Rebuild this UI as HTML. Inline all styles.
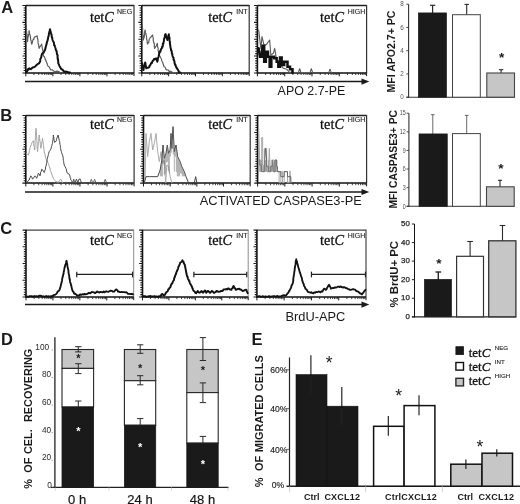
<!DOCTYPE html>
<html lang="en">
<head>
<meta charset="utf-8">
<title>Figure</title>
<style>
html,body{margin:0;padding:0;background:#fff;}
body{width:520px;height:504px;overflow:hidden;}
svg{display:block;}
</style>
</head>
<body>
<svg width="520" height="504" viewBox="0 0 520 504">
<rect x="0" y="0" width="520" height="504" fill="#ffffff"/>
<text transform="translate(1.2 12.7)" font-family='"Liberation Sans", Arial, sans-serif' font-size="16.5" font-weight="bold" text-anchor="start" fill="#1a1a1a" >A</text>
<text transform="translate(0.3 120.9)" font-family='"Liberation Sans", Arial, sans-serif' font-size="16.5" font-weight="bold" text-anchor="start" fill="#1a1a1a" >B</text>
<text transform="translate(0.3 234.2)" font-family='"Liberation Sans", Arial, sans-serif' font-size="16.5" font-weight="bold" text-anchor="start" fill="#1a1a1a" >C</text>
<text transform="translate(0.9 344.7)" font-family='"Liberation Sans", Arial, sans-serif' font-size="16.5" font-weight="bold" text-anchor="start" fill="#1a1a1a" >D</text>
<text transform="translate(251.6 345)" font-family='"Liberation Sans", Arial, sans-serif' font-size="16.5" font-weight="bold" text-anchor="start" fill="#1a1a1a" >E</text>
<line x1="25.8" y1="5.5" x2="134" y2="5.5" stroke="#222" stroke-width="1.3" />
<line x1="25.8" y1="5.2" x2="25.8" y2="73.2" stroke="#111" stroke-width="1.6" />
<line x1="134" y1="4.9" x2="134" y2="72.9" stroke="#333" stroke-width="1.2" />
<line x1="25.3" y1="72.9" x2="134" y2="72.9" stroke="#111" stroke-width="1.5" />
<path d="M22.4 5.5H25.8M23.6 7.91H25.8M23.6 10.31H25.8M23.6 12.72H25.8M23.6 15.13H25.8M23.6 17.54H25.8M23.6 19.94H25.8M22.4 22.35H25.8M23.6 24.76H25.8M23.6 27.16H25.8M23.6 29.57H25.8M23.6 31.98H25.8M23.6 34.39H25.8M23.6 36.79H25.8M22.4 39.2H25.8M23.6 41.61H25.8M23.6 44.01H25.8M23.6 46.42H25.8M23.6 48.83H25.8M23.6 51.24H25.8M23.6 53.64H25.8M22.4 56.05H25.8M23.6 58.46H25.8M23.6 60.86H25.8M23.6 63.27H25.8M23.6 65.68H25.8M23.6 68.09H25.8M23.6 70.49H25.8M22.4 72.9H25.8" stroke="#1a1a1a" stroke-width="1.05" fill="none"/>
<path d="M25.8 72.9V76.3M52.85 72.9V76.3M79.9 72.9V76.3M106.95 72.9V76.3M134 72.9V76.1" stroke="#1a1a1a" stroke-width="1.0" fill="none"/>
<path d="M33.94 72.9V75M38.71 72.9V75M42.09 72.9V75M44.71 72.9V75M46.85 72.9V75M48.66 72.9V75M50.23 72.9V75M51.61 72.9V75M60.99 72.9V75M65.76 72.9V75M69.14 72.9V75M71.76 72.9V75M73.9 72.9V75M75.71 72.9V75M77.28 72.9V75M78.66 72.9V75M88.04 72.9V75M92.81 72.9V75M96.19 72.9V75M98.81 72.9V75M100.95 72.9V75M102.76 72.9V75M104.33 72.9V75M105.71 72.9V75M115.09 72.9V75M119.86 72.9V75M123.24 72.9V75M125.86 72.9V75M128 72.9V75M129.81 72.9V75M131.38 72.9V75M132.76 72.9V75" stroke="#222" stroke-width="0.85" fill="none"/>
<text transform="translate(90 21.7) scale(0.925 1)" font-family='"Liberation Serif", "Times New Roman", serif' font-size="15.5" fill="#111" stroke="#111" stroke-width="0.3">tet<tspan font-style="italic">C</tspan></text>
<text transform="translate(117 13.9)" font-family='"Liberation Sans", Arial, sans-serif' font-size="7" font-weight="normal" text-anchor="start" fill="#222" stroke="#222" stroke-width="0.12">NEG</text>
<line x1="141.8" y1="5.5" x2="249.2" y2="5.5" stroke="#222" stroke-width="1.3" />
<line x1="141.8" y1="5.2" x2="141.8" y2="73.2" stroke="#111" stroke-width="1.6" />
<line x1="249.2" y1="4.9" x2="249.2" y2="72.9" stroke="#333" stroke-width="1.2" />
<line x1="141.3" y1="72.9" x2="249.2" y2="72.9" stroke="#111" stroke-width="1.5" />
<path d="M138.4 5.5H141.8M139.6 7.91H141.8M139.6 10.31H141.8M139.6 12.72H141.8M139.6 15.13H141.8M139.6 17.54H141.8M139.6 19.94H141.8M138.4 22.35H141.8M139.6 24.76H141.8M139.6 27.16H141.8M139.6 29.57H141.8M139.6 31.98H141.8M139.6 34.39H141.8M139.6 36.79H141.8M138.4 39.2H141.8M139.6 41.61H141.8M139.6 44.01H141.8M139.6 46.42H141.8M139.6 48.83H141.8M139.6 51.24H141.8M139.6 53.64H141.8M138.4 56.05H141.8M139.6 58.46H141.8M139.6 60.86H141.8M139.6 63.27H141.8M139.6 65.68H141.8M139.6 68.09H141.8M139.6 70.49H141.8M138.4 72.9H141.8" stroke="#1a1a1a" stroke-width="1.05" fill="none"/>
<path d="M141.8 72.9V76.3M168.65 72.9V76.3M195.5 72.9V76.3M222.35 72.9V76.3M249.2 72.9V76.1" stroke="#1a1a1a" stroke-width="1.0" fill="none"/>
<path d="M149.88 72.9V75M154.61 72.9V75M157.97 72.9V75M160.57 72.9V75M162.69 72.9V75M164.49 72.9V75M166.05 72.9V75M167.42 72.9V75M176.73 72.9V75M181.46 72.9V75M184.82 72.9V75M187.42 72.9V75M189.54 72.9V75M191.34 72.9V75M192.9 72.9V75M194.27 72.9V75M203.58 72.9V75M208.31 72.9V75M211.67 72.9V75M214.27 72.9V75M216.39 72.9V75M218.19 72.9V75M219.75 72.9V75M221.12 72.9V75M230.43 72.9V75M235.16 72.9V75M238.52 72.9V75M241.12 72.9V75M243.24 72.9V75M245.04 72.9V75M246.6 72.9V75M247.97 72.9V75" stroke="#222" stroke-width="0.85" fill="none"/>
<text transform="translate(208.2 21.7) scale(0.925 1)" font-family='"Liberation Serif", "Times New Roman", serif' font-size="15.5" fill="#111" stroke="#111" stroke-width="0.3">tet<tspan font-style="italic">C</tspan></text>
<text transform="translate(236.2 13.9)" font-family='"Liberation Sans", Arial, sans-serif' font-size="7" font-weight="normal" text-anchor="start" fill="#222" stroke="#222" stroke-width="0.12">INT</text>
<line x1="257.4" y1="5.5" x2="366.6" y2="5.5" stroke="#222" stroke-width="1.3" />
<line x1="257.4" y1="5.2" x2="257.4" y2="73.2" stroke="#111" stroke-width="1.6" />
<line x1="366.6" y1="4.9" x2="366.6" y2="72.9" stroke="#333" stroke-width="1.2" />
<line x1="256.9" y1="72.9" x2="366.6" y2="72.9" stroke="#111" stroke-width="1.5" />
<path d="M254 5.5H257.4M255.2 7.91H257.4M255.2 10.31H257.4M255.2 12.72H257.4M255.2 15.13H257.4M255.2 17.54H257.4M255.2 19.94H257.4M254 22.35H257.4M255.2 24.76H257.4M255.2 27.16H257.4M255.2 29.57H257.4M255.2 31.98H257.4M255.2 34.39H257.4M255.2 36.79H257.4M254 39.2H257.4M255.2 41.61H257.4M255.2 44.01H257.4M255.2 46.42H257.4M255.2 48.83H257.4M255.2 51.24H257.4M255.2 53.64H257.4M254 56.05H257.4M255.2 58.46H257.4M255.2 60.86H257.4M255.2 63.27H257.4M255.2 65.68H257.4M255.2 68.09H257.4M255.2 70.49H257.4M254 72.9H257.4" stroke="#1a1a1a" stroke-width="1.05" fill="none"/>
<path d="M257.4 72.9V76.3M284.7 72.9V76.3M312 72.9V76.3M339.3 72.9V76.3M366.6 72.9V76.1" stroke="#1a1a1a" stroke-width="1.0" fill="none"/>
<path d="M265.62 72.9V75M270.43 72.9V75M273.84 72.9V75M276.48 72.9V75M278.64 72.9V75M280.47 72.9V75M282.05 72.9V75M283.45 72.9V75M292.92 72.9V75M297.73 72.9V75M301.14 72.9V75M303.78 72.9V75M305.94 72.9V75M307.77 72.9V75M309.35 72.9V75M310.75 72.9V75M320.22 72.9V75M325.03 72.9V75M328.44 72.9V75M331.08 72.9V75M333.24 72.9V75M335.07 72.9V75M336.65 72.9V75M338.05 72.9V75M347.52 72.9V75M352.33 72.9V75M355.74 72.9V75M358.38 72.9V75M360.54 72.9V75M362.37 72.9V75M363.95 72.9V75M365.35 72.9V75" stroke="#222" stroke-width="0.85" fill="none"/>
<text transform="translate(320.1 21.7) scale(0.925 1)" font-family='"Liberation Serif", "Times New Roman", serif' font-size="15.5" fill="#111" stroke="#111" stroke-width="0.3">tet<tspan font-style="italic">C</tspan></text>
<text transform="translate(347.7 13.9)" font-family='"Liberation Sans", Arial, sans-serif' font-size="7" font-weight="normal" text-anchor="start" fill="#222" stroke="#222" stroke-width="0.12">HIGH</text>
<line x1="25" y1="81.6" x2="363.3" y2="81.6" stroke="#1a1a1a" stroke-width="1.5" />
<polygon points="361.5,78.5 369.3,81.6 361.5,84.7" fill="#1a1a1a"/>
<line x1="25.8" y1="115.5" x2="134.1" y2="115.5" stroke="#222" stroke-width="1.3" />
<line x1="25.8" y1="115.2" x2="25.8" y2="183.4" stroke="#111" stroke-width="1.6" />
<line x1="134.1" y1="114.9" x2="134.1" y2="183.1" stroke="#333" stroke-width="1.2" />
<line x1="25.3" y1="183.1" x2="134.1" y2="183.1" stroke="#111" stroke-width="1.5" />
<path d="M22.4 115.5H25.8M23.6 117.91H25.8M23.6 120.33H25.8M23.6 122.74H25.8M23.6 125.16H25.8M23.6 127.57H25.8M23.6 129.99H25.8M22.4 132.4H25.8M23.6 134.81H25.8M23.6 137.23H25.8M23.6 139.64H25.8M23.6 142.06H25.8M23.6 144.47H25.8M23.6 146.89H25.8M22.4 149.3H25.8M23.6 151.71H25.8M23.6 154.13H25.8M23.6 156.54H25.8M23.6 158.96H25.8M23.6 161.37H25.8M23.6 163.79H25.8M22.4 166.2H25.8M23.6 168.61H25.8M23.6 171.03H25.8M23.6 173.44H25.8M23.6 175.86H25.8M23.6 178.27H25.8M23.6 180.69H25.8M22.4 183.1H25.8" stroke="#1a1a1a" stroke-width="1.05" fill="none"/>
<path d="M25.8 183.1V186.5M52.88 183.1V186.5M79.95 183.1V186.5M107.02 183.1V186.5M134.1 183.1V186.3" stroke="#1a1a1a" stroke-width="1.0" fill="none"/>
<path d="M33.95 183.1V185.2M38.72 183.1V185.2M42.1 183.1V185.2M44.72 183.1V185.2M46.87 183.1V185.2M48.68 183.1V185.2M50.25 183.1V185.2M51.64 183.1V185.2M61.03 183.1V185.2M65.79 183.1V185.2M69.18 183.1V185.2M71.8 183.1V185.2M73.94 183.1V185.2M75.76 183.1V185.2M77.33 183.1V185.2M78.71 183.1V185.2M88.1 183.1V185.2M92.87 183.1V185.2M96.25 183.1V185.2M98.87 183.1V185.2M101.02 183.1V185.2M102.83 183.1V185.2M104.4 183.1V185.2M105.79 183.1V185.2M115.18 183.1V185.2M119.94 183.1V185.2M123.33 183.1V185.2M125.95 183.1V185.2M128.09 183.1V185.2M129.91 183.1V185.2M131.48 183.1V185.2M132.86 183.1V185.2" stroke="#222" stroke-width="0.85" fill="none"/>
<text transform="translate(90 129) scale(0.925 1)" font-family='"Liberation Serif", "Times New Roman", serif' font-size="15.5" fill="#111" stroke="#111" stroke-width="0.3">tet<tspan font-style="italic">C</tspan></text>
<text transform="translate(117 121.5)" font-family='"Liberation Sans", Arial, sans-serif' font-size="7" font-weight="normal" text-anchor="start" fill="#222" stroke="#222" stroke-width="0.12">NEG</text>
<line x1="143.5" y1="115.5" x2="250.2" y2="115.5" stroke="#222" stroke-width="1.3" />
<line x1="143.5" y1="115.2" x2="143.5" y2="183.4" stroke="#111" stroke-width="1.6" />
<line x1="250.2" y1="114.9" x2="250.2" y2="183.1" stroke="#333" stroke-width="1.2" />
<line x1="143" y1="183.1" x2="250.2" y2="183.1" stroke="#111" stroke-width="1.5" />
<path d="M140.1 115.5H143.5M141.3 117.91H143.5M141.3 120.33H143.5M141.3 122.74H143.5M141.3 125.16H143.5M141.3 127.57H143.5M141.3 129.99H143.5M140.1 132.4H143.5M141.3 134.81H143.5M141.3 137.23H143.5M141.3 139.64H143.5M141.3 142.06H143.5M141.3 144.47H143.5M141.3 146.89H143.5M140.1 149.3H143.5M141.3 151.71H143.5M141.3 154.13H143.5M141.3 156.54H143.5M141.3 158.96H143.5M141.3 161.37H143.5M141.3 163.79H143.5M140.1 166.2H143.5M141.3 168.61H143.5M141.3 171.03H143.5M141.3 173.44H143.5M141.3 175.86H143.5M141.3 178.27H143.5M141.3 180.69H143.5M140.1 183.1H143.5" stroke="#1a1a1a" stroke-width="1.05" fill="none"/>
<path d="M143.5 183.1V186.5M170.18 183.1V186.5M196.85 183.1V186.5M223.52 183.1V186.5M250.2 183.1V186.3" stroke="#1a1a1a" stroke-width="1.0" fill="none"/>
<path d="M151.53 183.1V185.2M156.23 183.1V185.2M159.56 183.1V185.2M162.15 183.1V185.2M164.26 183.1V185.2M166.04 183.1V185.2M167.59 183.1V185.2M168.95 183.1V185.2M178.2 183.1V185.2M182.9 183.1V185.2M186.23 183.1V185.2M188.82 183.1V185.2M190.93 183.1V185.2M192.72 183.1V185.2M194.26 183.1V185.2M195.63 183.1V185.2M204.88 183.1V185.2M209.58 183.1V185.2M212.91 183.1V185.2M215.5 183.1V185.2M217.61 183.1V185.2M219.39 183.1V185.2M220.94 183.1V185.2M222.3 183.1V185.2M231.55 183.1V185.2M236.25 183.1V185.2M239.58 183.1V185.2M242.17 183.1V185.2M244.28 183.1V185.2M246.07 183.1V185.2M247.61 183.1V185.2M248.98 183.1V185.2" stroke="#222" stroke-width="0.85" fill="none"/>
<text transform="translate(208.2 129) scale(0.925 1)" font-family='"Liberation Serif", "Times New Roman", serif' font-size="15.5" fill="#111" stroke="#111" stroke-width="0.3">tet<tspan font-style="italic">C</tspan></text>
<text transform="translate(236.2 121.5)" font-family='"Liberation Sans", Arial, sans-serif' font-size="7" font-weight="normal" text-anchor="start" fill="#222" stroke="#222" stroke-width="0.12">INT</text>
<line x1="257.6" y1="115.5" x2="366.6" y2="115.5" stroke="#222" stroke-width="1.3" />
<line x1="257.6" y1="115.2" x2="257.6" y2="183.4" stroke="#111" stroke-width="1.6" />
<line x1="366.6" y1="114.9" x2="366.6" y2="183.1" stroke="#333" stroke-width="1.2" />
<line x1="257.1" y1="183.1" x2="366.6" y2="183.1" stroke="#111" stroke-width="1.5" />
<path d="M254.2 115.5H257.6M255.4 117.91H257.6M255.4 120.33H257.6M255.4 122.74H257.6M255.4 125.16H257.6M255.4 127.57H257.6M255.4 129.99H257.6M254.2 132.4H257.6M255.4 134.81H257.6M255.4 137.23H257.6M255.4 139.64H257.6M255.4 142.06H257.6M255.4 144.47H257.6M255.4 146.89H257.6M254.2 149.3H257.6M255.4 151.71H257.6M255.4 154.13H257.6M255.4 156.54H257.6M255.4 158.96H257.6M255.4 161.37H257.6M255.4 163.79H257.6M254.2 166.2H257.6M255.4 168.61H257.6M255.4 171.03H257.6M255.4 173.44H257.6M255.4 175.86H257.6M255.4 178.27H257.6M255.4 180.69H257.6M254.2 183.1H257.6" stroke="#1a1a1a" stroke-width="1.05" fill="none"/>
<path d="M257.6 183.1V186.5M284.85 183.1V186.5M312.1 183.1V186.5M339.35 183.1V186.5M366.6 183.1V186.3" stroke="#1a1a1a" stroke-width="1.0" fill="none"/>
<path d="M265.8 183.1V185.2M270.6 183.1V185.2M274.01 183.1V185.2M276.65 183.1V185.2M278.8 183.1V185.2M280.63 183.1V185.2M282.21 183.1V185.2M283.6 183.1V185.2M293.05 183.1V185.2M297.85 183.1V185.2M301.26 183.1V185.2M303.9 183.1V185.2M306.05 183.1V185.2M307.88 183.1V185.2M309.46 183.1V185.2M310.85 183.1V185.2M320.3 183.1V185.2M325.1 183.1V185.2M328.51 183.1V185.2M331.15 183.1V185.2M333.3 183.1V185.2M335.13 183.1V185.2M336.71 183.1V185.2M338.1 183.1V185.2M347.55 183.1V185.2M352.35 183.1V185.2M355.76 183.1V185.2M358.4 183.1V185.2M360.55 183.1V185.2M362.38 183.1V185.2M363.96 183.1V185.2M365.35 183.1V185.2" stroke="#222" stroke-width="0.85" fill="none"/>
<text transform="translate(320.1 129) scale(0.925 1)" font-family='"Liberation Serif", "Times New Roman", serif' font-size="15.5" fill="#111" stroke="#111" stroke-width="0.3">tet<tspan font-style="italic">C</tspan></text>
<text transform="translate(347.7 121.5)" font-family='"Liberation Sans", Arial, sans-serif' font-size="7" font-weight="normal" text-anchor="start" fill="#222" stroke="#222" stroke-width="0.12">HIGH</text>
<line x1="25" y1="192" x2="363.3" y2="192" stroke="#1a1a1a" stroke-width="1.5" />
<polygon points="361.5,188.9 369.3,192 361.5,195.1" fill="#1a1a1a"/>
<line x1="26" y1="230.1" x2="133.7" y2="230.1" stroke="#444" stroke-width="1.1" />
<line x1="26" y1="229.8" x2="26" y2="297.3" stroke="#111" stroke-width="1.6" />
<line x1="133.7" y1="229.5" x2="133.7" y2="297" stroke="#808080" stroke-width="0.9" />
<line x1="25.5" y1="297" x2="133.7" y2="297" stroke="#111" stroke-width="1.5" />
<path d="M22.6 230.1H26M23.8 232.49H26M23.8 234.88H26M23.8 237.27H26M23.8 239.66H26M23.8 242.05H26M23.8 244.44H26M22.6 246.82H26M23.8 249.21H26M23.8 251.6H26M23.8 253.99H26M23.8 256.38H26M23.8 258.77H26M23.8 261.16H26M22.6 263.55H26M23.8 265.94H26M23.8 268.33H26M23.8 270.72H26M23.8 273.11H26M23.8 275.5H26M23.8 277.89H26M22.6 280.27H26M23.8 282.66H26M23.8 285.05H26M23.8 287.44H26M23.8 289.83H26M23.8 292.22H26M23.8 294.61H26M22.6 297H26" stroke="#1a1a1a" stroke-width="1.05" fill="none"/>
<path d="M26 297V300.4M52.92 297V300.4M79.85 297V300.4M106.77 297V300.4M133.7 297V300.2" stroke="#1a1a1a" stroke-width="1.0" fill="none"/>
<path d="M34.11 297V299.1M38.85 297V299.1M42.21 297V299.1M44.82 297V299.1M46.95 297V299.1M48.75 297V299.1M50.32 297V299.1M51.69 297V299.1M61.03 297V299.1M65.77 297V299.1M69.14 297V299.1M71.74 297V299.1M73.88 297V299.1M75.68 297V299.1M77.24 297V299.1M78.62 297V299.1M87.96 297V299.1M92.7 297V299.1M96.06 297V299.1M98.67 297V299.1M100.8 297V299.1M102.6 297V299.1M104.17 297V299.1M105.54 297V299.1M114.88 297V299.1M119.62 297V299.1M122.99 297V299.1M125.59 297V299.1M127.73 297V299.1M129.53 297V299.1M131.09 297V299.1M132.47 297V299.1" stroke="#222" stroke-width="0.85" fill="none"/>
<text transform="translate(90 244.7) scale(0.925 1)" font-family='"Liberation Serif", "Times New Roman", serif' font-size="15.5" fill="#111" stroke="#111" stroke-width="0.3">tet<tspan font-style="italic">C</tspan></text>
<text transform="translate(117 237.7)" font-family='"Liberation Sans", Arial, sans-serif' font-size="7" font-weight="normal" text-anchor="start" fill="#222" stroke="#222" stroke-width="0.12">NEG</text>
<line x1="142.5" y1="230.1" x2="248.2" y2="230.1" stroke="#444" stroke-width="1.1" />
<line x1="142.5" y1="229.8" x2="142.5" y2="297.3" stroke="#111" stroke-width="1.6" />
<line x1="248.2" y1="229.5" x2="248.2" y2="297" stroke="#808080" stroke-width="0.9" />
<line x1="142" y1="297" x2="248.2" y2="297" stroke="#111" stroke-width="1.5" />
<path d="M139.1 230.1H142.5M140.3 232.49H142.5M140.3 234.88H142.5M140.3 237.27H142.5M140.3 239.66H142.5M140.3 242.05H142.5M140.3 244.44H142.5M139.1 246.82H142.5M140.3 249.21H142.5M140.3 251.6H142.5M140.3 253.99H142.5M140.3 256.38H142.5M140.3 258.77H142.5M140.3 261.16H142.5M139.1 263.55H142.5M140.3 265.94H142.5M140.3 268.33H142.5M140.3 270.72H142.5M140.3 273.11H142.5M140.3 275.5H142.5M140.3 277.89H142.5M139.1 280.27H142.5M140.3 282.66H142.5M140.3 285.05H142.5M140.3 287.44H142.5M140.3 289.83H142.5M140.3 292.22H142.5M140.3 294.61H142.5M139.1 297H142.5" stroke="#1a1a1a" stroke-width="1.05" fill="none"/>
<path d="M142.5 297V300.4M168.93 297V300.4M195.35 297V300.4M221.77 297V300.4M248.2 297V300.2" stroke="#1a1a1a" stroke-width="1.0" fill="none"/>
<path d="M150.45 297V299.1M155.11 297V299.1M158.41 297V299.1M160.97 297V299.1M163.06 297V299.1M164.83 297V299.1M166.36 297V299.1M167.72 297V299.1M176.88 297V299.1M181.53 297V299.1M184.83 297V299.1M187.4 297V299.1M189.49 297V299.1M191.26 297V299.1M192.79 297V299.1M194.14 297V299.1M203.3 297V299.1M207.96 297V299.1M211.26 297V299.1M213.82 297V299.1M215.91 297V299.1M217.68 297V299.1M219.21 297V299.1M220.57 297V299.1M229.73 297V299.1M234.38 297V299.1M237.68 297V299.1M240.25 297V299.1M242.34 297V299.1M244.11 297V299.1M245.64 297V299.1M246.99 297V299.1" stroke="#222" stroke-width="0.85" fill="none"/>
<text transform="translate(208.2 244.7) scale(0.925 1)" font-family='"Liberation Serif", "Times New Roman", serif' font-size="15.5" fill="#111" stroke="#111" stroke-width="0.3">tet<tspan font-style="italic">C</tspan></text>
<text transform="translate(236.2 237.7)" font-family='"Liberation Sans", Arial, sans-serif' font-size="7" font-weight="normal" text-anchor="start" fill="#222" stroke="#222" stroke-width="0.12">INT</text>
<line x1="256.9" y1="230.1" x2="366" y2="230.1" stroke="#444" stroke-width="1.1" />
<line x1="256.9" y1="229.8" x2="256.9" y2="297.3" stroke="#111" stroke-width="1.6" />
<line x1="366" y1="229.5" x2="366" y2="297" stroke="#555" stroke-width="1.3" />
<line x1="256.4" y1="297" x2="366" y2="297" stroke="#111" stroke-width="1.5" />
<path d="M253.5 230.1H256.9M254.7 232.49H256.9M254.7 234.88H256.9M254.7 237.27H256.9M254.7 239.66H256.9M254.7 242.05H256.9M254.7 244.44H256.9M253.5 246.82H256.9M254.7 249.21H256.9M254.7 251.6H256.9M254.7 253.99H256.9M254.7 256.38H256.9M254.7 258.77H256.9M254.7 261.16H256.9M253.5 263.55H256.9M254.7 265.94H256.9M254.7 268.33H256.9M254.7 270.72H256.9M254.7 273.11H256.9M254.7 275.5H256.9M254.7 277.89H256.9M253.5 280.27H256.9M254.7 282.66H256.9M254.7 285.05H256.9M254.7 287.44H256.9M254.7 289.83H256.9M254.7 292.22H256.9M254.7 294.61H256.9M253.5 297H256.9" stroke="#1a1a1a" stroke-width="1.05" fill="none"/>
<path d="M256.9 297V300.4M284.17 297V300.4M311.45 297V300.4M338.73 297V300.4M366 297V300.2" stroke="#1a1a1a" stroke-width="1.0" fill="none"/>
<path d="M265.11 297V299.1M269.91 297V299.1M273.32 297V299.1M275.96 297V299.1M278.12 297V299.1M279.95 297V299.1M281.53 297V299.1M282.93 297V299.1M292.39 297V299.1M297.19 297V299.1M300.6 297V299.1M303.24 297V299.1M305.4 297V299.1M307.23 297V299.1M308.81 297V299.1M310.2 297V299.1M319.66 297V299.1M324.46 297V299.1M327.87 297V299.1M330.51 297V299.1M332.67 297V299.1M334.5 297V299.1M336.08 297V299.1M337.48 297V299.1M346.94 297V299.1M351.74 297V299.1M355.15 297V299.1M357.79 297V299.1M359.95 297V299.1M361.78 297V299.1M363.36 297V299.1M364.75 297V299.1" stroke="#222" stroke-width="0.85" fill="none"/>
<text transform="translate(320.1 244.7) scale(0.925 1)" font-family='"Liberation Serif", "Times New Roman", serif' font-size="15.5" fill="#111" stroke="#111" stroke-width="0.3">tet<tspan font-style="italic">C</tspan></text>
<text transform="translate(347.7 237.7)" font-family='"Liberation Sans", Arial, sans-serif' font-size="7" font-weight="normal" text-anchor="start" fill="#222" stroke="#222" stroke-width="0.12">HIGH</text>
<line x1="25" y1="304.6" x2="363.3" y2="304.6" stroke="#1a1a1a" stroke-width="1.5" />
<polygon points="361.5,301.5 369.3,304.6 361.5,307.7" fill="#1a1a1a"/>
<text transform="translate(277.6 94.9) scale(1.0203 1)" font-family='"Liberation Sans", Arial, sans-serif' font-size="12.2" font-weight="normal" text-anchor="start" fill="#1a1a1a" >APO 2.7-PE</text>
<text transform="translate(199.8 204.9) scale(1.0454 1)" font-family='"Liberation Sans", Arial, sans-serif' font-size="12.3" font-weight="normal" text-anchor="start" fill="#1a1a1a" >ACTIVATED CASPASE3-PE</text>
<text transform="translate(285.4 320.8) scale(1.0536 1)" font-family='"Liberation Sans", Arial, sans-serif' font-size="12.2" font-weight="normal" text-anchor="start" fill="#1a1a1a" >BrdU-APC</text>
<polyline points="26.17,25 26.44,25.45 26.21,27.7 26.41,28.33 26.68,29.72 26.36,29.82 26.66,32.27 26.52,33.25 27,33.79 27.21,34.51 26.8,36.83 27.17,36.37 27.17,39.12 27.28,38.93 27.26,39.71 27.5,41.67 27.68,40.35 27.73,38.78 28.03,37.55 27.98,36.47 28.46,36.26 28.44,34.7 28.99,34.13 28.89,31.35 29.17,30.83 29.49,32.34 29.54,33.84 29.88,34.76 30.05,34.92 30.4,37.08 30.46,37.51 30.49,37.77 30.79,40.26 31.07,40.24 31.34,42.31 31.43,42.83 31.67,44.17 32.23,43.07 32.44,41.98 32.66,40.81 33.44,38.9 33.8,39.48 34.17,37.5 34.99,36.75 36.43,36.39 37.17,35.83 37.37,37.46 37.39,38.75 37.96,39.27 37.87,40.52 38.1,41.1 37.99,43.47 38.61,44.3 38.75,45.62 38.81,46.62 38.94,47.31 39.17,48.33 39.99,46.49 40.25,46.38 41.03,45.22 41.67,44.17 41.77,45.11 42.1,46.64 42.2,47.98 42.26,48.13 42.64,49.6 42.94,52.04 43.13,53.13 43.33,53.36 43.33,55 43.66,56.42 44.18,56.35 45,58.33 45.28,59.9 45.9,59.85 46.02,61.39 46.68,62.17 46.96,63.29 47.5,65 48.14,66.38 48.82,66.68 49.44,67.14 50,68.86 50.83,70 52.3,69.71 53.18,70.85 54.75,71.44 55.83,71.67 56.96,71.08 58.73,71.59 60,72.5" fill="none" stroke="#5a5a5a" stroke-width="1.15" stroke-linejoin="round" stroke-linecap="round"/>
<polyline points="26.17,71.67 27.1,71.47 27.49,69.38 28.52,69.64 29.17,68.33 30.83,69.17 31.59,68.57 32.5,67.5 33.79,67.23 35,66.67 35.69,65.95 36.62,64.9 37.5,64.17 38.54,63.65 39.19,63.13 40,61.67 40.18,60.48 40.36,58.79 40.76,58.28 41.28,57.05 41.41,56.15 41.67,55 42.09,53.8 42.76,53.09 43.75,52.51 44.17,51.67 44.35,50.87 44.92,50.13 45.27,48.87 45.54,47.87 45.93,46.25 45.9,46.06 46.44,44.73 46.67,43.33 46.96,42.17 47.4,41.1 47.64,40 47.94,38.68 48.04,38.34 48.33,36.67 48.75,35.69 48.8,34.84 48.97,33.06 49.15,32.66 49.43,31.88 49.68,30.81 50,29.17 50.36,30.92 50.56,31.39 50.87,32.71 50.99,33.35 51.57,34.74 51.67,35.83 51.77,36.98 52.32,38.23 52.37,39.32 52.59,40.06 52.96,40.91 53.33,41.67 53.8,42.33 53.97,43.2 54.16,45.29 54.74,45.43 54.99,46.77 55.15,47.26 55.59,48.5 55.83,50 56.36,50.42 56.6,51.34 56.73,52.33 57.02,54.44 57.5,55 57.68,55.6 57.52,56.92 57.67,58.81 57.85,58.52 58.12,60.37 58.06,60.71 58.21,61.63 58.33,63.33 58.93,64.71 59.44,65.9 59.92,66.84 60.22,67.3 60.83,68.33 61.59,69.39 62.48,69.44 63.33,70.83 64.22,71.65 65.37,71.54 66.31,71.73 67.5,72 68.65,72.6 70,72.6" fill="none" stroke="#111" stroke-width="2.0" stroke-linejoin="round" stroke-linecap="round"/>
<polyline points="142.17,25 142.29,25.68 142.43,27.07 142.24,28.69 142.76,28.74 142.54,30.34 142.77,32.82 142.87,33.68 142.8,34.48 143.29,35.63 143.32,36.58 143.06,38 143.45,39.31 143.5,40 143.43,38.53 143.86,38.44 144.26,37.06 144.47,35.94 144.59,34.26 144.85,33.23 144.58,32.9 144.83,30.46 145.17,30 145.32,31.93 145.44,32.41 145.68,33.28 145.98,34.09 146.35,35.6 146.55,36.87 146.78,38.27 146.52,39.03 147.15,40.46 147.13,41.63 147.13,42.37 147.51,43.67 147.67,44.17 147.85,42.67 148.76,42.58 149.08,40.09 149.14,39.56 149.9,38.24 150.17,37.5 150.75,37.34 151.59,36.04 152.67,35 152.74,36.5 153.26,37.91 153.44,38.34 153.1,39.1 153.25,40.74 153.62,41.12 153.65,42.98 154.2,43.07 154.41,44.66 154.27,46.83 154.51,47.15 154.67,48.33 155.25,47.59 155.8,46.44 156.27,46.13 156.92,44.21 157.33,43.33 157.39,44.03 157.68,46.53 157.57,46.92 158.04,47.85 158.23,48.3 158.1,50.57 158.48,51.73 158.59,52.99 158.96,54.21 159,55 159.43,55.25 160.58,57.54 161,58.33 161.39,59 161.74,60.72 162.15,61.42 162.72,62.54 163.02,63.53 163.5,65 163.91,66.49 164.96,67.12 165.35,67.66 166.03,69.55 166.83,70 168.05,69.94 169.12,71.36 170.49,71.18 171.83,72 173.19,72.6 174.43,72.6 176,72.6" fill="none" stroke="#5a5a5a" stroke-width="1.15" stroke-linejoin="round" stroke-linecap="round"/>
<polyline points="142.17,63.33 142.2,64.02 142.45,65.39 142.79,65.97 143.2,68.45 143.14,69.31 143.5,70 143.63,68.99 143.79,67.33 144.42,66.33 144.6,66.24 144.54,65.12 144.99,63.27 145.17,62.5 145.57,64.04 145.43,65.44 145.95,66.17 145.95,67.18 146.33,68.33 147.22,67.87 148.5,67.5 149.3,67.15 149.65,65.49 150.41,65.03 151,63.33 151.79,63.11 152.21,61.68 152.84,60.99 153.5,60 154.24,58.9 154.95,59.39 156,58.33 156.51,58.72 156.91,60.2 157.33,61.67 157.51,60.58 157.69,60.38 157.94,58.4 158.23,57.71 158.7,56.23 158.86,55.13 158.89,55.02 159.33,53.33 159.7,51.63 160.39,51.76 160.75,49.91 161.31,48.82 161.83,48.33 162.2,46.56 162.59,46.88 162.87,45.58 162.82,43.4 163.32,43.87 163.67,41.94 163.88,41.23 164,40 164.13,38.7 164.38,37.97 165.06,36.89 164.88,35.84 165.23,34.41 165.67,34.17 165.88,35.59 166.03,35.78 166.46,37.85 166.57,37.59 166.9,38.32 167.33,40 167.42,39.31 167.83,37.32 168.32,36.68 168.35,35.51 168.54,35.58 168.83,34.17 168.96,36.03 169.06,35.92 169.2,36.68 169.55,38.1 169.5,40.11 169.52,39.92 169.63,41.34 170.08,42.4 169.82,43.34 170.17,45 170.41,46.73 170.54,47.87 170.87,48.77 171.12,49.63 171.01,50.2 171.6,50.79 171.83,52.93 171.83,53.33 172.22,54.02 172.52,55.72 172.78,56.69 173.16,57.39 173.58,57.72 173.49,59.78 174,60 174.55,61.86 174.45,62.49 174.82,63.97 175.41,65.19 175.51,64.85 176,66.67 176.66,67.92 177.46,69.14 177.64,69.34 178.5,70.83 179.1,72.43 180.17,72.6" fill="none" stroke="#111" stroke-width="2.0" stroke-linejoin="round" stroke-linecap="round"/>
<polyline points="258.67,30 260.83,48.33 262,36.67 264.17,45.83 266.67,44.17 269.67,40 270.83,55 273.33,53.33 274.67,48.33 276.33,58.33 278.33,61.67 280.83,65 283.33,68.33 286.67,69.17 289.17,72 293.33,72.67 298.33,72.67 299.67,68.67 301,72.67 310,72.67 311.33,68.67 312.67,72.67" fill="none" stroke="#5a5a5a" stroke-width="1.1" stroke-linejoin="round" stroke-linecap="round"/>
<polyline points="328.7,72.6 330,69 331.3,72.6" fill="none" stroke="#5a5a5a" stroke-width="1.0" stroke-linejoin="round" stroke-linecap="round"/>
<polyline points="258.67,48.33 260,56.67 261.67,56.67 262.5,45.83 264.17,45.83 264.17,61.67 265.83,61.67 265.83,51.67 268,51.67 268,56.67 269.67,56.67 269.67,66.67 271.33,66.67 271.33,56.67 274.17,56.67 274.17,58.33 276.67,58.33 276.67,61.67 278.33,61.67 278.33,66.67 280,66.67 280,57.5 281.67,57.5 281.67,65 284.17,65 284.17,61.67 287.5,61.67 287.5,66.67 290,66.67 290,69.17 292.5,69.17 292.5,72.67" fill="none" stroke="#111" stroke-width="2.5" stroke-linejoin="miter" stroke-linecap="round"/>
<polyline points="26.17,153.33 27.32,154.29 28.33,155 28.8,153.96 29.13,152.57 29.32,150.53 29.71,150.11 30,148.33 30.3,147.48 30.76,145.8 31.27,144.63 31.67,143.33 32.42,141.6 33.33,140.83 33.65,141.92 33.61,143.72 33.8,145.06 33.98,146.19 34.4,146.88 34.39,148.4 34.67,150 34.85,149.28 34.95,147.38 34.94,146.43 35.1,144.89 35.18,144.17 35.05,143.17 35.08,141.44 35.13,140.02 35.36,138.97 35.46,137.47 35.42,136.6 35.55,135.87 35.62,134.17 35.57,133.35 35.63,132.42 35.96,130.99 36.01,129.06 36,128.33 36.1,129.43 36.02,130.3 36.37,131.7 36.39,132.94 36.53,134.9 36.43,135.55 36.64,136.95 36.71,137.77 36.82,139.68 36.92,140.15 36.82,141.43 37.07,143.18 37.15,144.14 37.05,145.57 37.09,146.57 37.16,147.56 37.49,149.4 37.29,150.1 37.5,151.67 37.64,150.87 37.68,149.01 37.98,147.91 37.99,146.49 38.27,144.81 38.27,143.51 38.29,143.03 38.66,141.64 38.74,140.26 38.76,138.45 39.01,137.21 39.02,136.08 39.17,135 39.42,136.71 39.46,137.9 39.69,138.62 39.71,139.83 39.82,140.96 40.22,142.15 40.27,143.94 40.33,144.7 40.46,145.5 40.79,147.4 40.83,148.33 41.13,146.94 41.31,146.11 41.54,144.75 41.73,143.2 41.87,141.86 42.14,141.1 42.43,139.38 42.5,138.33 42.68,139.7 42.82,140.27 43.01,141.72 43.2,143.14 43.35,144.54 43.45,145.45 43.66,147.06 43.81,147.88 43.92,149.61 44.15,150.93 44.17,151.67 44.51,153.02 44.93,154 45.16,156.1 45.57,157.19 45.83,158.33 46.36,159.81 47.11,161.11 47.68,162.25 48.33,163.33 48.77,164.65 49.11,165.85 49.3,166.43 49.81,168.04 50.17,169 50.34,170.61 50.83,171.67 51.25,172.97 51.72,173.89 52.24,175.48 52.69,176.69 53.33,178.33 54.13,179.41 55.03,180.67 55.83,181.67 57.2,181.9 58.33,182.6 59.14,181 59.97,180.11 60.83,179.17 61.49,179.95 61.81,181.37 62.5,182.6" fill="none" stroke="#a0a0a0" stroke-width="1.0" stroke-linejoin="round" stroke-linecap="round"/>
<polyline points="26.17,182.67 27.28,182.13 28.08,180.87 29.17,180 29.78,178.01 30.37,177.19 30.83,175.83 31.49,176.79 32.05,177.78 32.5,179.17 33.3,178.33 34.23,176.99 35,175.83 35.85,176.71 36.67,178.33 37,177.45 37.57,176.2 37.86,175 38.33,173.33 39.27,174.1 40,175.83 40.31,174.87 40.56,172.68 40.92,172 41.37,171.04 41.67,169.17 42.56,169.92 43.49,171.22 44.17,172.5 44.53,171.74 44.96,170.17 45.42,169.12 45.56,166.93 45.9,166.37 46.33,165 46.42,163.77 46.81,162.79 47.09,160.54 47.16,159.44 47.5,158.33 47.7,156.98 48.3,155.32 48.32,154.57 48.66,153.33 49.17,151.67 50.15,150.22 50.83,149.17 51.1,148.14 51.46,146.69 52.01,145.22 52.14,143.96 52.5,143.33 52.6,142.24 52.69,141.13 53.06,139.74 53.2,137.98 53.31,136.33 53.33,135 53.56,136.61 53.85,137.47 53.85,138.64 54.14,140.3 54.55,141.24 54.67,142.5 56.33,140.83 56.49,139.27 57.03,138.05 57.25,137.17 57.82,136.11 58,135 58.3,136.04 58.71,138.12 58.99,138.72 59.2,140.31 59.67,141.67 59.76,142.71 59.94,144.41 60.34,145.43 60.29,146.94 60.44,147.74 60.66,148.69 60.83,150 61.41,151.6 61.49,152.25 61.92,153.69 62.5,155 62.81,155.69 63,157.03 63.28,158.58 63.18,160.42 63.7,160.88 63.72,162.64 64.07,164.09 64.17,165 64.71,166.1 65.23,166.74 65.83,168.33 66.3,169.16 66.54,170.96 66.94,172.24 67.5,173.33 69.17,174.17 69.55,174.86 69.98,176.46 70.24,177.82 70.62,178.39 70.83,180 71.71,180.83 72.5,182.6 73.04,181.99 73.26,180.81 73.67,179.17 74.22,180.57 74.72,181.06 75,182.6 75.42,181.99 75.87,180.67 76.33,179.17 76.85,180.07 77.33,180.98 77.67,182.6 78.03,182.07 78.41,180.86 79,179.17 80.33,179.17 80.7,180.76 81.2,182.06 81.67,182.6" fill="none" stroke="#444" stroke-width="1.0" stroke-linejoin="round" stroke-linecap="round"/>
<polyline points="90,182.6 91.3,179.4 92.6,182.6" fill="none" stroke="#555" stroke-width="0.9" stroke-linejoin="round" stroke-linecap="round"/>
<polyline points="93.3,182.6 94.6,179.4 95.9,182.6" fill="none" stroke="#555" stroke-width="0.9" stroke-linejoin="round" stroke-linecap="round"/>
<polyline points="103.9,182.6 105.2,179.4 106.5,182.6" fill="none" stroke="#555" stroke-width="0.9" stroke-linejoin="round" stroke-linecap="round"/>
<polyline points="145.17,176.67 146,133.33 147.67,156.67 149.33,141.67 151,133.33 152.67,150 154.33,143.33 156,133.33 157.67,151.67 159.33,161.67 161,151.67 162.67,163.33 164.33,160 165.67,182.67 166.83,165 168.5,166.67 170.17,176.67 171.83,182.67" fill="none" stroke="#aaa" stroke-width="1.0" stroke-linejoin="round" stroke-linecap="round"/>
<polyline points="144.33,182.67 146,176.67 149.33,176.67 157.67,176.67 160.17,170 161.83,160 163,145 164.33,158.33 166,153.33 167.33,145 168.5,153.33 170.17,150 171,133.33 171.83,148.33 173,126.67 174.33,151.67 176,145 177.67,156.67 180.17,161.67 181.83,166.67 184.33,171.67 186,176.67 188.5,182.67 194.33,182.67 195.67,176.67 196.83,182.67" fill="none" stroke="#444" stroke-width="1.0" stroke-linejoin="round" stroke-linecap="round"/>
<path d="M160.33 169V176.33M161.33 163V176.33M162.33 153.57V176.33M163.33 148.33V164.43M164.33 158.33V175.13M165.33 155.33V173.46M166.33 151.25V162.66M167.33 145V161.87M168.33 152.14V170.97M169.33 151.67V173.22M170.33 146.67V156.57M171.33 139.33V152.72M172.33 139.05V148.89M173.33 132.92V154.74M174.33 151.67V171.56M175.33 147.67V156.7M176.33 147.33V172.04M177.33 154.33V176.33M178.33 158V176.33M179.33 160V176.33M180.33 162.17V173.12M181.33 165.17V173.75M182.33 167.67V176.33M183.33 169.67V176.33M184.33 171.67V176.33M185.33 174.67V176.33" stroke="#777" stroke-width="0.6" fill="none"/>
<polyline points="258.67,128.33 259.67,160 260.67,160 260.67,171.67 261.67,171.67 261.67,137.5 262.67,137.5 262.67,165 263.67,165 263.67,171.67 264.67,171.67 264.67,148.33 266.67,148.33 266.67,171.67 268.33,171.67 269.33,148.33 270.33,171.67 271.67,171.67 271.67,160 274.17,160 274.17,171.67 275.83,171.67 275.83,160 277,160 277,171.67 279.17,171.67 279.17,182.67 280.83,182.67 280.83,171.67 282.5,171.67 282.5,182.67 284.17,182.67 284.17,171.67 287.5,171.67 287.5,182.67 289.17,182.67 290,170.83 290.83,182.67" fill="none" stroke="#aaa" stroke-width="1.0" stroke-linejoin="miter" stroke-linecap="round"/>
<polyline points="259.67,160 259.67,165 261.67,165 261.67,171.67 262.67,171.67 264.67,171.67 264.67,160 265.67,148.33 266.67,160 266.67,166.67 268.33,166.67 268.33,171.67 270.33,171.67 270.33,166.67 272.5,166.67 272.5,160 273.33,171.67 275,171.67 275,160 276.33,160 276.33,166.67 277.5,166.67 277.5,171.67 280.83,171.67 280.83,176.67 284.17,176.67 284.17,171.67 287.5,171.67 287.5,176.67 290.83,176.67 290.83,182.67" fill="none" stroke="#666" stroke-width="1.0" stroke-linejoin="miter" stroke-linecap="round"/>
<path d="M259.67 160V171.67M260.83 165V171.67M262 160V171.67M263.17 166.67V171.67M264.33 149.17V171.67M265.5 160V171.67M266.67 166.67V171.67M267.83 165V171.67M269 160V171.67M270.17 166.67V171.67M271.33 165V171.67M272.5 160V171.67M273.67 161.67V171.67M274.83 160V171.67M276 165V171.67M277.17 167.5V171.67" stroke="#888" stroke-width="0.7" fill="none"/>
<polyline points="26.13,296.61 26.95,296.42 27.86,296.78 28.89,296.65 29.87,296.13 30.78,296.1 31.61,296.14 32.79,296.53 33.61,296.61 34.47,296.05 35.65,296.45 36.42,296.24 37.25,296.53 38.27,296.25 39.29,295.7 40.3,295.62 41.66,296.1 42.69,296.61 43.63,296.24 44.46,296.72 45.27,296.6 46.22,296.04 47.21,296.7 48.17,296.27 48.98,296.4 50.02,296.75 50.88,296.13 51.77,296.38 52.65,295.88 53.21,295.58 54.04,294.8 55.05,294.87 56.31,293.89 56.96,293.04 57.44,291.99 58.06,291.11 58.6,291.15 59.08,290.52 59.71,289.35 59.99,288.61 60.2,287.52 60.61,286.85 60.77,285.49 61.04,284.08 61.39,283.76 61.4,283 61.78,281.56 61.98,280.73 62.16,279.26 62.23,278.47 62.63,277.41 62.65,276.54 63.05,275.88 63.1,274.59 63.43,274.16 63.61,273.52 63.65,271.98 64,271.12 63.94,270.83 64.25,269.38 64.41,268.07 64.75,267.17 64.93,266.61 65.23,265 65.53,264.45 65.82,264.13 66.05,262.69 66.12,261.91 66.52,260.76 66.79,262.16 66.97,263.09 67.01,263.52 67.27,264.16 67.26,265.07 67.46,266.19 67.6,267.29 67.81,267.87 68.11,269.38 68.21,269.89 68.53,270.75 68.44,272.34 68.66,272.89 68.74,273.96 69.18,275.44 69.16,275.96 69.18,276.49 69.39,277.72 69.51,279.2 69.92,279.26 69.92,280.73 70.03,281.67 70.22,282.59 70.76,283.48 70.89,284.76 71.01,285 71.37,285.81 71.6,287.12 71.64,287.8 72.12,289.24 72.19,289.8 72.74,291.01 73.18,291.79 73.56,291.95 73.85,292.91 74.46,293.89 75.24,293.77 76.22,294.42 76.99,295.58 77.86,295.48 79.16,295.39 80.13,294.34 81.22,294.92 82.31,294.19 83.54,294.57 84.35,294.01 85.48,294.25 86.25,294.26 87.26,293.83 88.07,293.43 89.03,292.71 89.98,293.34 90.79,292.89 91.8,291.99 92.61,292.07 93.85,292.34 94.88,292.98 95.6,292.97 96.54,291.81 97.15,291.39 98.18,292.21 99.42,292.53 100.44,291.89 101.69,292.07 102.73,292.44 103.69,291.53 104.58,292.37 105.49,291.61 106.26,291.29 107.36,291.62 108.54,291.84 109.77,291.04 110.76,290.71 112.02,290.94 112.94,291.68 114.17,291.62 114.86,290.59 115.71,289.82 116.44,289.35 116.94,289.84 117.63,290.46 118.03,291.62 118.92,291.69 119.84,292.07 120.88,292.17 121.79,291.99 122.57,292.08 123.31,292.1 124.38,292.07 125.18,292.37 126.29,292.25 127.09,292.8 128.03,293.77 128.92,293.89 129.94,293.81 131.05,294.18 132,293.8 133,294.34" fill="none" stroke="#111" stroke-width="1.85" stroke-linejoin="round" stroke-linecap="round"/>
<line x1="76.73" y1="274.37" x2="132.55" y2="274.37" stroke="#222" stroke-width="1.2" />
<line x1="76.73" y1="271.65" x2="76.73" y2="277.32" stroke="#222" stroke-width="1.2" />
<line x1="132.55" y1="271.65" x2="132.55" y2="277.32" stroke="#222" stroke-width="1.2" />
<polyline points="142.35,296.61 143.43,296.31 144.26,296.2 145.03,296.16 145.94,296.8 146.94,296.77 147.87,296.56 148.9,296.27 149.62,296.16 150.55,296.08 151.68,296.51 152.34,296.48 153.55,296.35 154.35,296.13 155.28,296.48 156.21,296.43 157.12,296.61 158.01,296.8 158.76,296.22 159.83,296.61 160.58,296.19 161.49,294.46 162.09,293.89 162.93,294.51 163.54,295.37 164.36,295.48 165.06,294.47 165.59,293.37 166.13,292.48 166.63,292.07 167.35,291.54 167.77,290.94 168.22,289.47 168.91,289.08 169.6,287.82 170.04,287.54 170.53,286.69 170.8,285.53 171.26,284.45 171.71,283.88 172.27,283.15 172.48,282.86 172.9,281.46 173.44,280.73 173.94,280 174.21,278.58 174.3,277.79 174.75,277.39 175.12,275.83 175.45,274.99 175.8,274.32 176.09,273.56 176.37,272.11 176.84,271.65 177.19,270.31 177.63,269.68 177.93,268.93 178.06,268.55 178.43,266.58 178.91,266.08 179.18,265.57 179.4,264.9 179.81,263.85 180.25,262.57 180.85,262.23 181.85,261.57 182.52,260.31 183,261.75 183.58,261.77 183.74,262.96 184.33,264.05 184.79,264.84 184.86,265.76 185.19,266.32 185.23,267.63 185.62,268.56 185.72,269.81 185.87,270.4 186.01,271.16 186.17,272.35 186.56,273.6 186.52,274.42 186.84,275.09 187.06,276.19 187.59,276.62 187.81,278.24 188.09,279.06 188.58,279.42 188.99,280.87 189.36,280.94 189.78,282.82 190.24,283.72 190.46,284.13 190.82,284.68 191.47,285.89 191.88,286.54 192.17,287.92 192.74,288.52 192.94,289.55 193.34,290.47 193.86,290.94 194.77,291.55 195.31,292.83 196.13,293.21 196.7,292.22 197.25,292.07 197.72,290.94 198.7,292.33 199.54,292.75 200.48,292.2 201.35,290.94 202.12,291.7 202.94,292.75 203.55,291.99 204.07,291.61 204.75,290.49 205.36,290.77 205.79,291.75 206.34,292.75 207.36,291.43 208.16,290.94 208.88,291.6 209.75,292.75 210.5,292.48 211.39,291.3 212.02,290.94 212.73,291.45 213.62,292.66 214.28,292.75 214.96,292.42 215.83,291.89 216.55,290.94 217.64,291.53 218.92,291.7 219.96,291.62 220.92,291.04 221.94,291.02 222.77,290.72 223.62,289.4 224.5,289.35 225.27,289.42 226.43,289.04 227.36,289.39 228.16,288.36 229.03,288.67 230.22,289.64 231.3,289.8 231.72,288.64 232.56,288.34 232.96,287.08 233.57,285.95 234.24,287.27 234.74,288.12 235.21,288.64 235.84,289.8 236.92,289.27 237.98,289.07 239.24,288.67 240.05,289.48 240.87,289.43 241.77,290.25 242.65,290.94 243.65,290.87 244.85,289.88 246.05,289.8 246.53,290.3 246.7,291.08 247.32,292.42 247.64,293.21" fill="none" stroke="#111" stroke-width="1.95" stroke-linejoin="round" stroke-linecap="round"/>
<line x1="193.86" y1="274.37" x2="246.73" y2="274.37" stroke="#222" stroke-width="1.2" />
<line x1="193.86" y1="271.65" x2="193.86" y2="277.32" stroke="#222" stroke-width="1.2" />
<line x1="246.73" y1="271.65" x2="246.73" y2="277.32" stroke="#222" stroke-width="1.2" />
<polyline points="256.99,296.61 257.89,296.57 258.99,296.21 259.81,296.07 260.61,296.8 261.73,296.67 262.59,296.11 263.56,296.8 264.4,296.8 265.32,296.32 266.53,296.62 267.42,296.71 268.35,296.48 269.14,296.17 270.15,296.61 271.14,296.78 271.83,296.48 272.78,296.29 273.89,296.28 274.82,296.17 275.45,296.8 276.5,296.32 277.39,295.91 278.19,296.8 279.23,296.38 280.08,296.36 281.3,296.21 281.98,295.67 283.13,295.41 283.95,295.21 285.2,295.6 286.04,295.48 286.57,294.63 287.04,294.12 287.63,293.3 288.46,292.57 288.89,291.2 289.44,290.94 289.7,290.17 290.36,288.92 290.45,288.84 291.1,287.64 291.37,286.24 291.67,285.14 292.12,284.95 292.33,284.18 292.84,283 293.09,281.92 293.07,281.27 293.37,280.17 293.17,279.45 293.39,278.79 293.48,277.48 293.63,276.58 293.86,275.28 294.03,274.39 294.15,273.4 294.17,273.35 294.21,272.34 294.39,271.46 294.69,269.99 294.66,269.38 294.76,268.35 294.91,267.92 294.98,266.78 295.16,266.05 295.54,264.25 295.67,263.45 295.71,263.42 295.67,261.42 295.92,260.71 296.26,260.22 296.25,259.17 296.39,259.98 296.65,261.18 297.04,261.63 297.14,263.28 297.61,263.98 297.77,265.3 298.06,265.98 298.25,267.38 298.74,268.16 298.94,269.31 299.08,269.43 299.41,270.87 299.68,271.96 300.11,272.79 300.27,273.98 300.5,274.02 300.88,275.39 301.01,276.19 301.51,277.18 301.76,278.12 302.03,278.44 302.14,280.27 302.37,280.73 302.71,281.64 302.89,282.94 303.37,283.53 303.76,284.04 303.88,285.38 304.33,286.24 304.71,286.89 305.03,287.3 305.32,288.67 306.13,289.21 306.79,289.74 307.41,290.96 307.89,291.81 308.73,292.07 309.67,292.41 310.51,292.72 311.35,292.28 312.25,293.1 313.27,293.21 314.13,292.5 315.09,292.72 316.08,292.01 316.99,292.12 317.8,292.07 318.86,291.44 319.78,291.99 320.64,292.34 321.39,291.28 322.34,291.62 323.04,290.34 323.46,289.31 324.16,288.67 324.83,288.81 325.75,289.8 326.47,289.45 326.96,288 327.46,287.27 328.06,286.33 328.5,285.35 329.15,284.81 329.5,285.8 330.2,286.67 330.38,287.18 330.97,288.67 332.55,287.99 333.54,288.17 334.94,287.41 335.96,287.54 336.77,287.42 337.7,286.6 338.78,286.63 339.68,287.15 340.5,286.4 341.55,287.07 342.45,287.27 343.08,287.6 344.04,287.11 345.03,287.54 345.94,288.1 346.96,288.27 347.66,288.79 348.65,289.1 349.57,289.8 350.5,289.84 351.28,289.56 352.24,289.42 353.22,289.08 354.11,289.35 355.09,289.55 355.81,290.61 356.78,291.12 357.78,291.47 358.65,292.07 359.63,292.93 360.26,293.46 361.15,293.82 362.05,294.34 362.64,293.06 363.31,292.8 363.86,291.88 364.19,291.33 364.82,290.8 365.46,289.8" fill="none" stroke="#111" stroke-width="1.85" stroke-linejoin="round" stroke-linecap="round"/>
<line x1="311.45" y1="274.37" x2="365.46" y2="274.37" stroke="#222" stroke-width="1.2" />
<line x1="311.45" y1="271.65" x2="311.45" y2="277.32" stroke="#222" stroke-width="1.2" />
<line x1="365.46" y1="271.65" x2="365.46" y2="277.32" stroke="#222" stroke-width="1.2" />
<line x1="408.6" y1="4.2" x2="408.6" y2="97.7" stroke="#333" stroke-width="1.1" />
<line x1="406.4" y1="97.2" x2="514.8" y2="97.2" stroke="#333" stroke-width="1.1" />
<line x1="406.3" y1="4.2" x2="408.6" y2="4.2" stroke="#333" stroke-width="0.9" />
<text transform="translate(403.8 6.4)" font-family='"Liberation Sans", Arial, sans-serif' font-size="6.3" font-weight="normal" text-anchor="end" fill="#555" >8</text>
<line x1="406.3" y1="27.45" x2="408.6" y2="27.45" stroke="#333" stroke-width="0.9" />
<text transform="translate(403.8 29.65)" font-family='"Liberation Sans", Arial, sans-serif' font-size="6.3" font-weight="normal" text-anchor="end" fill="#555" >6</text>
<line x1="406.3" y1="50.7" x2="408.6" y2="50.7" stroke="#333" stroke-width="0.9" />
<text transform="translate(403.8 52.9)" font-family='"Liberation Sans", Arial, sans-serif' font-size="6.3" font-weight="normal" text-anchor="end" fill="#555" >4</text>
<line x1="406.3" y1="73.95" x2="408.6" y2="73.95" stroke="#333" stroke-width="0.9" />
<text transform="translate(403.8 76.15)" font-family='"Liberation Sans", Arial, sans-serif' font-size="6.3" font-weight="normal" text-anchor="end" fill="#555" >2</text>
<line x1="406.3" y1="97.2" x2="408.6" y2="97.2" stroke="#333" stroke-width="0.9" />
<text transform="translate(403.8 99.4)" font-family='"Liberation Sans", Arial, sans-serif' font-size="6.3" font-weight="normal" text-anchor="end" fill="#555" >0</text>
<line x1="432.6" y1="5.3" x2="432.6" y2="13" stroke="#2a2a2a" stroke-width="1.2" />
<line x1="429.95" y1="5.3" x2="435.25" y2="5.3" stroke="#2a2a2a" stroke-width="1.2" />
<line x1="466.7" y1="4.4" x2="466.7" y2="15" stroke="#2a2a2a" stroke-width="1.1" />
<line x1="464.5" y1="4.4" x2="468.9" y2="4.4" stroke="#2a2a2a" stroke-width="1.1" />
<line x1="501.1" y1="69.7" x2="501.1" y2="73" stroke="#2a2a2a" stroke-width="1.1" />
<line x1="498.9" y1="69.7" x2="503.3" y2="69.7" stroke="#2a2a2a" stroke-width="1.1" />
<rect x="418.3" y="12.9" width="28.3" height="84.3" fill="#1a1a1a" stroke="#1a1a1a" stroke-width="0.6"/>
<rect x="452.5" y="14.7" width="27.8" height="82.5" fill="#fff" stroke="#444" stroke-width="1.0"/>
<rect x="486.8" y="73" width="27.7" height="24.2" fill="#c6c6c6" stroke="#444" stroke-width="1.1"/>
<text transform="translate(501.6 62.48)" font-family='"Liberation Sans", Arial, sans-serif' font-size="13.61" font-weight="bold" text-anchor="middle" fill="#1a1a1a" >*</text>
<text transform="translate(395.2 92.6) rotate(-90) scale(0.9886 1)" font-family='"Liberation Sans", Arial, sans-serif' font-size="10.7" font-weight="bold" text-anchor="start" fill="#1a1a1a" >MFI APO2.7+ PC</text>
<line x1="408.9" y1="113.2" x2="408.9" y2="206.8" stroke="#333" stroke-width="1.1" />
<line x1="406.7" y1="206.3" x2="514.5" y2="206.3" stroke="#333" stroke-width="1.1" />
<line x1="406.6" y1="113.2" x2="408.9" y2="113.2" stroke="#333" stroke-width="0.9" />
<text transform="translate(405.8 115.4) scale(0.85 1)" font-family='"Liberation Sans", Arial, sans-serif' font-size="6.3" font-weight="normal" text-anchor="end" fill="#4a4a4a" >15</text>
<line x1="406.6" y1="131.82" x2="408.9" y2="131.82" stroke="#333" stroke-width="0.9" />
<text transform="translate(405.8 134.02) scale(0.85 1)" font-family='"Liberation Sans", Arial, sans-serif' font-size="6.3" font-weight="normal" text-anchor="end" fill="#4a4a4a" >12</text>
<line x1="406.6" y1="150.44" x2="408.9" y2="150.44" stroke="#333" stroke-width="0.9" />
<text transform="translate(405.8 152.64) scale(0.85 1)" font-family='"Liberation Sans", Arial, sans-serif' font-size="6.3" font-weight="normal" text-anchor="end" fill="#4a4a4a" >9</text>
<line x1="406.6" y1="169.06" x2="408.9" y2="169.06" stroke="#333" stroke-width="0.9" />
<text transform="translate(405.8 171.26) scale(0.85 1)" font-family='"Liberation Sans", Arial, sans-serif' font-size="6.3" font-weight="normal" text-anchor="end" fill="#4a4a4a" >6</text>
<line x1="406.6" y1="187.68" x2="408.9" y2="187.68" stroke="#333" stroke-width="0.9" />
<text transform="translate(405.8 189.88) scale(0.85 1)" font-family='"Liberation Sans", Arial, sans-serif' font-size="6.3" font-weight="normal" text-anchor="end" fill="#4a4a4a" >3</text>
<line x1="406.6" y1="206.3" x2="408.9" y2="206.3" stroke="#333" stroke-width="0.9" />
<text transform="translate(405.8 208.5) scale(0.85 1)" font-family='"Liberation Sans", Arial, sans-serif' font-size="6.3" font-weight="normal" text-anchor="end" fill="#4a4a4a" >0</text>
<line x1="432.8" y1="114.7" x2="432.8" y2="134" stroke="#444" stroke-width="0.8" />
<line x1="431" y1="114.7" x2="434.6" y2="114.7" stroke="#444" stroke-width="0.8" />
<line x1="466.7" y1="115.4" x2="466.7" y2="134" stroke="#444" stroke-width="0.8" />
<line x1="464.9" y1="115.4" x2="468.5" y2="115.4" stroke="#444" stroke-width="0.8" />
<line x1="500" y1="180.3" x2="500" y2="187" stroke="#2a2a2a" stroke-width="1.1" />
<line x1="497.9" y1="180.3" x2="502.1" y2="180.3" stroke="#2a2a2a" stroke-width="1.1" />
<rect x="419" y="133.9" width="28.3" height="72.4" fill="#1a1a1a" stroke="#1a1a1a" stroke-width="0.6"/>
<rect x="452.5" y="133.6" width="27.8" height="72.7" fill="#fff" stroke="#444" stroke-width="1.0"/>
<rect x="486.5" y="186.8" width="27.7" height="19.5" fill="#c6c6c6" stroke="#444" stroke-width="1.1"/>
<text transform="translate(501 173.38)" font-family='"Liberation Sans", Arial, sans-serif' font-size="13.61" font-weight="bold" text-anchor="middle" fill="#1a1a1a" >*</text>
<text transform="translate(396.7 208.6) rotate(-90) scale(0.9651 1)" font-family='"Liberation Sans", Arial, sans-serif' font-size="10.7" font-weight="bold" text-anchor="start" fill="#1a1a1a" >MFI CASPASE3+ PC</text>
<line x1="414.5" y1="224" x2="414.5" y2="317.3" stroke="#111" stroke-width="1.0" />
<line x1="412" y1="316.8" x2="516.2" y2="316.8" stroke="#222" stroke-width="1.2" />
<line x1="411.9" y1="224" x2="414.5" y2="224" stroke="#222" stroke-width="1.0" />
<text transform="translate(409.8 226)" font-family='"Liberation Sans", Arial, sans-serif' font-size="7.9" font-weight="normal" text-anchor="end" fill="#222" stroke="#222" stroke-width="0.25">50</text>
<line x1="411.9" y1="242.56" x2="414.5" y2="242.56" stroke="#222" stroke-width="1.0" />
<text transform="translate(409.8 244.56)" font-family='"Liberation Sans", Arial, sans-serif' font-size="7.9" font-weight="normal" text-anchor="end" fill="#222" stroke="#222" stroke-width="0.25">40</text>
<line x1="411.9" y1="261.12" x2="414.5" y2="261.12" stroke="#222" stroke-width="1.0" />
<text transform="translate(409.8 263.12)" font-family='"Liberation Sans", Arial, sans-serif' font-size="7.9" font-weight="normal" text-anchor="end" fill="#222" stroke="#222" stroke-width="0.25">30</text>
<line x1="411.9" y1="279.68" x2="414.5" y2="279.68" stroke="#222" stroke-width="1.0" />
<text transform="translate(409.8 281.68)" font-family='"Liberation Sans", Arial, sans-serif' font-size="7.9" font-weight="normal" text-anchor="end" fill="#222" stroke="#222" stroke-width="0.25">20</text>
<line x1="411.9" y1="298.24" x2="414.5" y2="298.24" stroke="#222" stroke-width="1.0" />
<text transform="translate(409.8 300.24)" font-family='"Liberation Sans", Arial, sans-serif' font-size="7.9" font-weight="normal" text-anchor="end" fill="#222" stroke="#222" stroke-width="0.25">10</text>
<line x1="411.9" y1="316.8" x2="414.5" y2="316.8" stroke="#222" stroke-width="1.0" />
<text transform="translate(409.8 318.8)" font-family='"Liberation Sans", Arial, sans-serif' font-size="7.9" font-weight="normal" text-anchor="end" fill="#222" stroke="#222" stroke-width="0.25">0</text>
<line x1="438.3" y1="272" x2="438.3" y2="280" stroke="#2a2a2a" stroke-width="1.4" />
<line x1="435.5" y1="272" x2="441.1" y2="272" stroke="#2a2a2a" stroke-width="1.4" />
<line x1="470.1" y1="241.5" x2="470.1" y2="257" stroke="#2a2a2a" stroke-width="1.1" />
<line x1="467.3" y1="241.5" x2="472.9" y2="241.5" stroke="#2a2a2a" stroke-width="1.1" />
<line x1="502.5" y1="225.5" x2="502.5" y2="241" stroke="#2a2a2a" stroke-width="1.1" />
<line x1="499.7" y1="225.5" x2="505.3" y2="225.5" stroke="#2a2a2a" stroke-width="1.1" />
<rect x="424.3" y="279.3" width="27.3" height="37.5" fill="#1a1a1a" stroke="#1a1a1a" stroke-width="0.6"/>
<rect x="456.6" y="256.3" width="26.9" height="60.5" fill="#fff" stroke="#333" stroke-width="1.2"/>
<rect x="488.7" y="240.8" width="27.2" height="76" fill="#c6c6c6" stroke="#333" stroke-width="1.3"/>
<text transform="translate(439 268.08)" font-family='"Liberation Sans", Arial, sans-serif' font-size="13.61" font-weight="bold" text-anchor="middle" fill="#1a1a1a" >*</text>
<text transform="translate(398 307.5) rotate(-90) scale(0.9794 1)" font-family='"Liberation Sans", Arial, sans-serif' font-size="11.6" font-weight="bold" text-anchor="start" fill="#1a1a1a" >% BrdU+ PC</text>
<line x1="54.9" y1="337.2" x2="54.9" y2="487.3" stroke="#222" stroke-width="1.3" />
<line x1="51" y1="487.3" x2="228.5" y2="487.3" stroke="#222" stroke-width="1.3" />
<line x1="51.7" y1="350" x2="52.7" y2="350" stroke="#666" stroke-width="0.8" />
<text transform="translate(49.2 349.9)" font-family='"Liberation Sans", Arial, sans-serif' font-size="8.3" font-weight="normal" text-anchor="end" fill="#2a2a2a" >100</text>
<line x1="51.7" y1="377.54" x2="52.7" y2="377.54" stroke="#666" stroke-width="0.8" />
<text transform="translate(51.2 377.44)" font-family='"Liberation Sans", Arial, sans-serif' font-size="8.3" font-weight="normal" text-anchor="end" fill="#2a2a2a" >80</text>
<line x1="51.7" y1="405.08" x2="52.7" y2="405.08" stroke="#666" stroke-width="0.8" />
<text transform="translate(51.2 404.98)" font-family='"Liberation Sans", Arial, sans-serif' font-size="8.3" font-weight="normal" text-anchor="end" fill="#2a2a2a" >60</text>
<line x1="51.7" y1="432.62" x2="52.7" y2="432.62" stroke="#666" stroke-width="0.8" />
<text transform="translate(51.2 432.52)" font-family='"Liberation Sans", Arial, sans-serif' font-size="8.3" font-weight="normal" text-anchor="end" fill="#2a2a2a" >40</text>
<line x1="51.7" y1="460.16" x2="52.7" y2="460.16" stroke="#666" stroke-width="0.8" />
<text transform="translate(51.2 460.06)" font-family='"Liberation Sans", Arial, sans-serif' font-size="8.3" font-weight="normal" text-anchor="end" fill="#2a2a2a" >20</text>
<line x1="51.7" y1="487.7" x2="52.7" y2="487.7" stroke="#666" stroke-width="0.8" />
<text transform="translate(51.9 487.6)" font-family='"Liberation Sans", Arial, sans-serif' font-size="8.3" font-weight="normal" text-anchor="end" fill="#2a2a2a" >0</text>
<line x1="55.2" y1="487.3" x2="55.2" y2="490.8" stroke="#bbb" stroke-width="0.6" />
<line x1="109" y1="487.3" x2="109" y2="490.8" stroke="#bbb" stroke-width="0.6" />
<line x1="171.5" y1="487.3" x2="171.5" y2="490.8" stroke="#bbb" stroke-width="0.6" />
<line x1="228" y1="487.3" x2="228" y2="490.8" stroke="#bbb" stroke-width="0.6" />
<rect x="62" y="349.5" width="31.6" height="18.9" fill="#c6c6c6" stroke="#262626" stroke-width="1.1"/>
<rect x="62" y="368.4" width="31.6" height="38.6" fill="#fff" stroke="#262626" stroke-width="1.1"/>
<rect x="62" y="407" width="31.6" height="80.3" fill="#1a1a1a" stroke="#1a1a1a" stroke-width="0.8"/>
<line x1="78.3" y1="346.7" x2="78.3" y2="351.9" stroke="#2a2a2a" stroke-width="1.0" />
<line x1="75.15" y1="346.7" x2="81.45" y2="346.7" stroke="#2a2a2a" stroke-width="1.0" />
<line x1="75.15" y1="351.9" x2="81.45" y2="351.9" stroke="#2a2a2a" stroke-width="1.0" />
<line x1="78.3" y1="363.7" x2="78.3" y2="373.6" stroke="#2a2a2a" stroke-width="1.0" />
<line x1="75.15" y1="363.7" x2="81.45" y2="363.7" stroke="#2a2a2a" stroke-width="1.0" />
<line x1="75.15" y1="373.6" x2="81.45" y2="373.6" stroke="#2a2a2a" stroke-width="1.0" />
<line x1="78.3" y1="401" x2="78.3" y2="407" stroke="#2a2a2a" stroke-width="1.0" />
<line x1="75.15" y1="401" x2="81.45" y2="401" stroke="#2a2a2a" stroke-width="1.0" />
<text transform="translate(78.3 362.18)" font-family='"Liberation Sans", Arial, sans-serif' font-size="11.11" font-weight="bold" text-anchor="middle" fill="#1a1a1a" >*</text>
<text transform="translate(78.3 434.98)" font-family='"Liberation Sans", Arial, sans-serif' font-size="11.11" font-weight="bold" text-anchor="middle" fill="#fff" >*</text>
<rect x="124.4" y="349.5" width="31.3" height="31.2" fill="#c6c6c6" stroke="#262626" stroke-width="1.1"/>
<rect x="124.4" y="380.7" width="31.3" height="44.5" fill="#fff" stroke="#262626" stroke-width="1.1"/>
<rect x="124.4" y="425.2" width="31.3" height="62.1" fill="#1a1a1a" stroke="#1a1a1a" stroke-width="0.8"/>
<line x1="140.2" y1="344.8" x2="140.2" y2="353.3" stroke="#2a2a2a" stroke-width="1.0" />
<line x1="137.05" y1="344.8" x2="143.35" y2="344.8" stroke="#2a2a2a" stroke-width="1.0" />
<line x1="137.05" y1="353.3" x2="143.35" y2="353.3" stroke="#2a2a2a" stroke-width="1.0" />
<line x1="140.2" y1="375.7" x2="140.2" y2="384.8" stroke="#2a2a2a" stroke-width="1.0" />
<line x1="137.05" y1="375.7" x2="143.35" y2="375.7" stroke="#2a2a2a" stroke-width="1.0" />
<line x1="137.05" y1="384.8" x2="143.35" y2="384.8" stroke="#2a2a2a" stroke-width="1.0" />
<line x1="140.2" y1="418.6" x2="140.2" y2="425.2" stroke="#2a2a2a" stroke-width="1.0" />
<line x1="137.05" y1="418.6" x2="143.35" y2="418.6" stroke="#2a2a2a" stroke-width="1.0" />
<text transform="translate(140.2 372.18)" font-family='"Liberation Sans", Arial, sans-serif' font-size="11.11" font-weight="bold" text-anchor="middle" fill="#1a1a1a" >*</text>
<text transform="translate(140.2 450.98)" font-family='"Liberation Sans", Arial, sans-serif' font-size="11.11" font-weight="bold" text-anchor="middle" fill="#fff" >*</text>
<rect x="186.8" y="349.5" width="31.4" height="43.1" fill="#c6c6c6" stroke="#262626" stroke-width="1.1"/>
<rect x="186.8" y="392.6" width="31.4" height="50.5" fill="#fff" stroke="#262626" stroke-width="1.1"/>
<rect x="186.8" y="443.1" width="31.4" height="44.2" fill="#1a1a1a" stroke="#1a1a1a" stroke-width="0.8"/>
<line x1="202.9" y1="337.6" x2="202.9" y2="360.5" stroke="#2a2a2a" stroke-width="1.0" />
<line x1="199.75" y1="337.6" x2="206.05" y2="337.6" stroke="#2a2a2a" stroke-width="1.0" />
<line x1="199.75" y1="360.5" x2="206.05" y2="360.5" stroke="#2a2a2a" stroke-width="1.0" />
<line x1="202.9" y1="382.9" x2="202.9" y2="402.6" stroke="#2a2a2a" stroke-width="1.0" />
<line x1="199.75" y1="382.9" x2="206.05" y2="382.9" stroke="#2a2a2a" stroke-width="1.0" />
<line x1="199.75" y1="402.6" x2="206.05" y2="402.6" stroke="#2a2a2a" stroke-width="1.0" />
<line x1="202.9" y1="436.4" x2="202.9" y2="443.1" stroke="#2a2a2a" stroke-width="1.0" />
<line x1="199.75" y1="436.4" x2="206.05" y2="436.4" stroke="#2a2a2a" stroke-width="1.0" />
<text transform="translate(202.9 373.98)" font-family='"Liberation Sans", Arial, sans-serif' font-size="11.11" font-weight="bold" text-anchor="middle" fill="#1a1a1a" >*</text>
<text transform="translate(202.9 467.78)" font-family='"Liberation Sans", Arial, sans-serif' font-size="11.11" font-weight="bold" text-anchor="middle" fill="#fff" >*</text>
<text transform="translate(77.1 504)" font-family='"Liberation Sans", Arial, sans-serif' font-size="13" font-weight="normal" text-anchor="middle" fill="#161616" stroke="#161616" stroke-width="0.2">0 h</text>
<text transform="translate(140 504)" font-family='"Liberation Sans", Arial, sans-serif' font-size="13" font-weight="normal" text-anchor="middle" fill="#161616" stroke="#161616" stroke-width="0.2">24 h</text>
<text transform="translate(202.5 504)" font-family='"Liberation Sans", Arial, sans-serif' font-size="13" font-weight="normal" text-anchor="middle" fill="#161616" stroke="#161616" stroke-width="0.2">48 h</text>
<text transform="translate(31.5 488.7) rotate(-90) scale(1.011 1)" font-family='"Liberation Sans", Arial, sans-serif' font-size="10.8" font-weight="bold" text-anchor="start" fill="#1a1a1a" >% <tspan dx="3.26">OF</tspan> <tspan dx="0.4">CEL.</tspan> <tspan dx="4.15">RECOVERING</tspan></text>
<line x1="289.5" y1="357.5" x2="289.5" y2="486.2" stroke="#222" stroke-width="1.2" />
<line x1="286.5" y1="486.2" x2="520" y2="486.2" stroke="#222" stroke-width="1.4" />
<line x1="286.3" y1="369.8" x2="289.5" y2="369.8" stroke="#444" stroke-width="0.8" />
<text transform="translate(287.4 373.2) scale(0.98 1.06)" font-family='"Liberation Sans", Arial, sans-serif' font-size="8.8" font-weight="normal" text-anchor="end" fill="#222" stroke="#222" stroke-width="0.15">60%</text>
<line x1="286.3" y1="408.6" x2="289.5" y2="408.6" stroke="#444" stroke-width="0.8" />
<text transform="translate(287.4 412) scale(0.98 1.06)" font-family='"Liberation Sans", Arial, sans-serif' font-size="8.8" font-weight="normal" text-anchor="end" fill="#222" stroke="#222" stroke-width="0.15">40%</text>
<line x1="286.3" y1="449.4" x2="289.5" y2="449.4" stroke="#444" stroke-width="0.8" />
<text transform="translate(287.4 452.8) scale(0.98 1.06)" font-family='"Liberation Sans", Arial, sans-serif' font-size="8.8" font-weight="normal" text-anchor="end" fill="#222" stroke="#222" stroke-width="0.15">40%</text>
<text transform="translate(284.2 488.3) scale(0.98 1.06)" font-family='"Liberation Sans", Arial, sans-serif' font-size="8.8" font-weight="normal" text-anchor="end" fill="#222" stroke="#222" stroke-width="0.15">0%</text>
<line x1="289.6" y1="486.2" x2="289.6" y2="492.2" stroke="#bbb" stroke-width="0.7" />
<line x1="365.6" y1="486.2" x2="365.6" y2="492.2" stroke="#bbb" stroke-width="0.7" />
<line x1="442.4" y1="486.2" x2="442.4" y2="492.2" stroke="#bbb" stroke-width="0.7" />
<rect x="296" y="374.6" width="31" height="111.6" fill="#1a1a1a" stroke="#111" stroke-width="0.6"/>
<rect x="327" y="406.2" width="31" height="80" fill="#1a1a1a" stroke="#111" stroke-width="0.6"/>
<line x1="310.9" y1="355.3" x2="310.9" y2="376" stroke="#111" stroke-width="1.1" />
<line x1="341.8" y1="387" x2="341.8" y2="408" stroke="#111" stroke-width="1.1" />
<line x1="310.9" y1="376" x2="310.9" y2="394" stroke="#272727" stroke-width="0.8" />
<line x1="341.8" y1="408" x2="341.8" y2="425" stroke="#2c2c2c" stroke-width="0.8" />
<rect x="373.6" y="426.3" width="30.5" height="59.9" fill="#fff" stroke="#111" stroke-width="1.5"/>
<rect x="404.1" y="405.6" width="30.8" height="80.6" fill="#fff" stroke="#111" stroke-width="1.5"/>
<line x1="388.3" y1="416" x2="388.3" y2="435.8" stroke="#111" stroke-width="1.1" />
<line x1="419" y1="395.3" x2="419" y2="415.2" stroke="#111" stroke-width="1.1" />
<rect x="450.8" y="464.2" width="31.2" height="22" fill="#c6c6c6" stroke="#111" stroke-width="1.5"/>
<rect x="482" y="453.2" width="30.5" height="33" fill="#c6c6c6" stroke="#111" stroke-width="1.5"/>
<line x1="465.9" y1="459.5" x2="465.9" y2="468.9" stroke="#111" stroke-width="1.1" />
<line x1="496.8" y1="449.3" x2="496.8" y2="456.4" stroke="#111" stroke-width="1.1" />
<text transform="translate(329.1 368.7)" font-family='"Liberation Sans", Arial, sans-serif' font-size="17.5" font-weight="normal" text-anchor="middle" fill="#1a1a1a" >*</text>
<text transform="translate(398.6 402)" font-family='"Liberation Sans", Arial, sans-serif' font-size="17.5" font-weight="normal" text-anchor="middle" fill="#1a1a1a" >*</text>
<text transform="translate(480 453.1)" font-family='"Liberation Sans", Arial, sans-serif' font-size="17.5" font-weight="normal" text-anchor="middle" fill="#1a1a1a" >*</text>
<text transform="translate(304 499.5)" font-family='"Liberation Sans", Arial, sans-serif' font-size="9" font-weight="bold" text-anchor="start" fill="#1a1a1a" >Ctrl</text>
<text transform="translate(324.4 499.5)" font-family='"Liberation Sans", Arial, sans-serif' font-size="9" font-weight="bold" text-anchor="start" fill="#1a1a1a" letter-spacing="0.2">CXCL12</text>
<text transform="translate(385 499.5)" font-family='"Liberation Sans", Arial, sans-serif' font-size="9" font-weight="bold" text-anchor="start" fill="#1a1a1a" letter-spacing="0.2">CtrlCXCL12</text>
<text transform="translate(457.6 499.5)" font-family='"Liberation Sans", Arial, sans-serif' font-size="9" font-weight="bold" text-anchor="start" fill="#1a1a1a" >Ctrl</text>
<text transform="translate(478.4 499.5)" font-family='"Liberation Sans", Arial, sans-serif' font-size="9" font-weight="bold" text-anchor="start" fill="#1a1a1a" letter-spacing="0.2">CXCL12</text>
<text transform="translate(262.9 487.3) rotate(-90) scale(1.016 1)" font-family='"Liberation Sans", Arial, sans-serif' font-size="10.8" font-weight="bold" text-anchor="start" fill="#1a1a1a" >% <tspan dx="3.54">OF</tspan> <tspan dx="0.49">MIGRATED</tspan> <tspan dx="0.2">CELLS</tspan></text>
<rect x="455.9" y="346.7" width="7.6" height="7.9" fill="#1a1a1a" stroke="#1a1a1a" stroke-width="0.8"/>
<rect x="455.9" y="362.5" width="7.6" height="7.6" fill="#fff" stroke="#111" stroke-width="1.4"/>
<rect x="455.9" y="378.3" width="7.6" height="7.6" fill="#c6c6c6" stroke="#2a2a2a" stroke-width="1.4"/>
<text transform="translate(468.7 356.6) scale(0.99 1)" font-family='"Liberation Serif", "Times New Roman", serif' font-size="13.2" fill="#111" stroke="#111" stroke-width="0.3">tet<tspan font-style="italic">C</tspan></text>
<text transform="translate(494.7 349.6)" font-family='"Liberation Sans", Arial, sans-serif' font-size="6.2" font-weight="normal" text-anchor="start" fill="#222" stroke="#222" stroke-width="0.12">NEG</text>
<text transform="translate(468.7 370.6) scale(0.99 1)" font-family='"Liberation Serif", "Times New Roman", serif' font-size="13.2" fill="#111" stroke="#111" stroke-width="0.3">tet<tspan font-style="italic">C</tspan></text>
<text transform="translate(494.7 363.6)" font-family='"Liberation Sans", Arial, sans-serif' font-size="6.2" font-weight="normal" text-anchor="start" fill="#222" stroke="#222" stroke-width="0.12">INT</text>
<text transform="translate(468.7 385) scale(0.99 1)" font-family='"Liberation Serif", "Times New Roman", serif' font-size="13.2" fill="#111" stroke="#111" stroke-width="0.3">tet<tspan font-style="italic">C</tspan></text>
<text transform="translate(494.7 378.2)" font-family='"Liberation Sans", Arial, sans-serif' font-size="6.2" font-weight="normal" text-anchor="start" fill="#222" stroke="#222" stroke-width="0.12">HIGH</text>
</svg>
</body>
</html>
